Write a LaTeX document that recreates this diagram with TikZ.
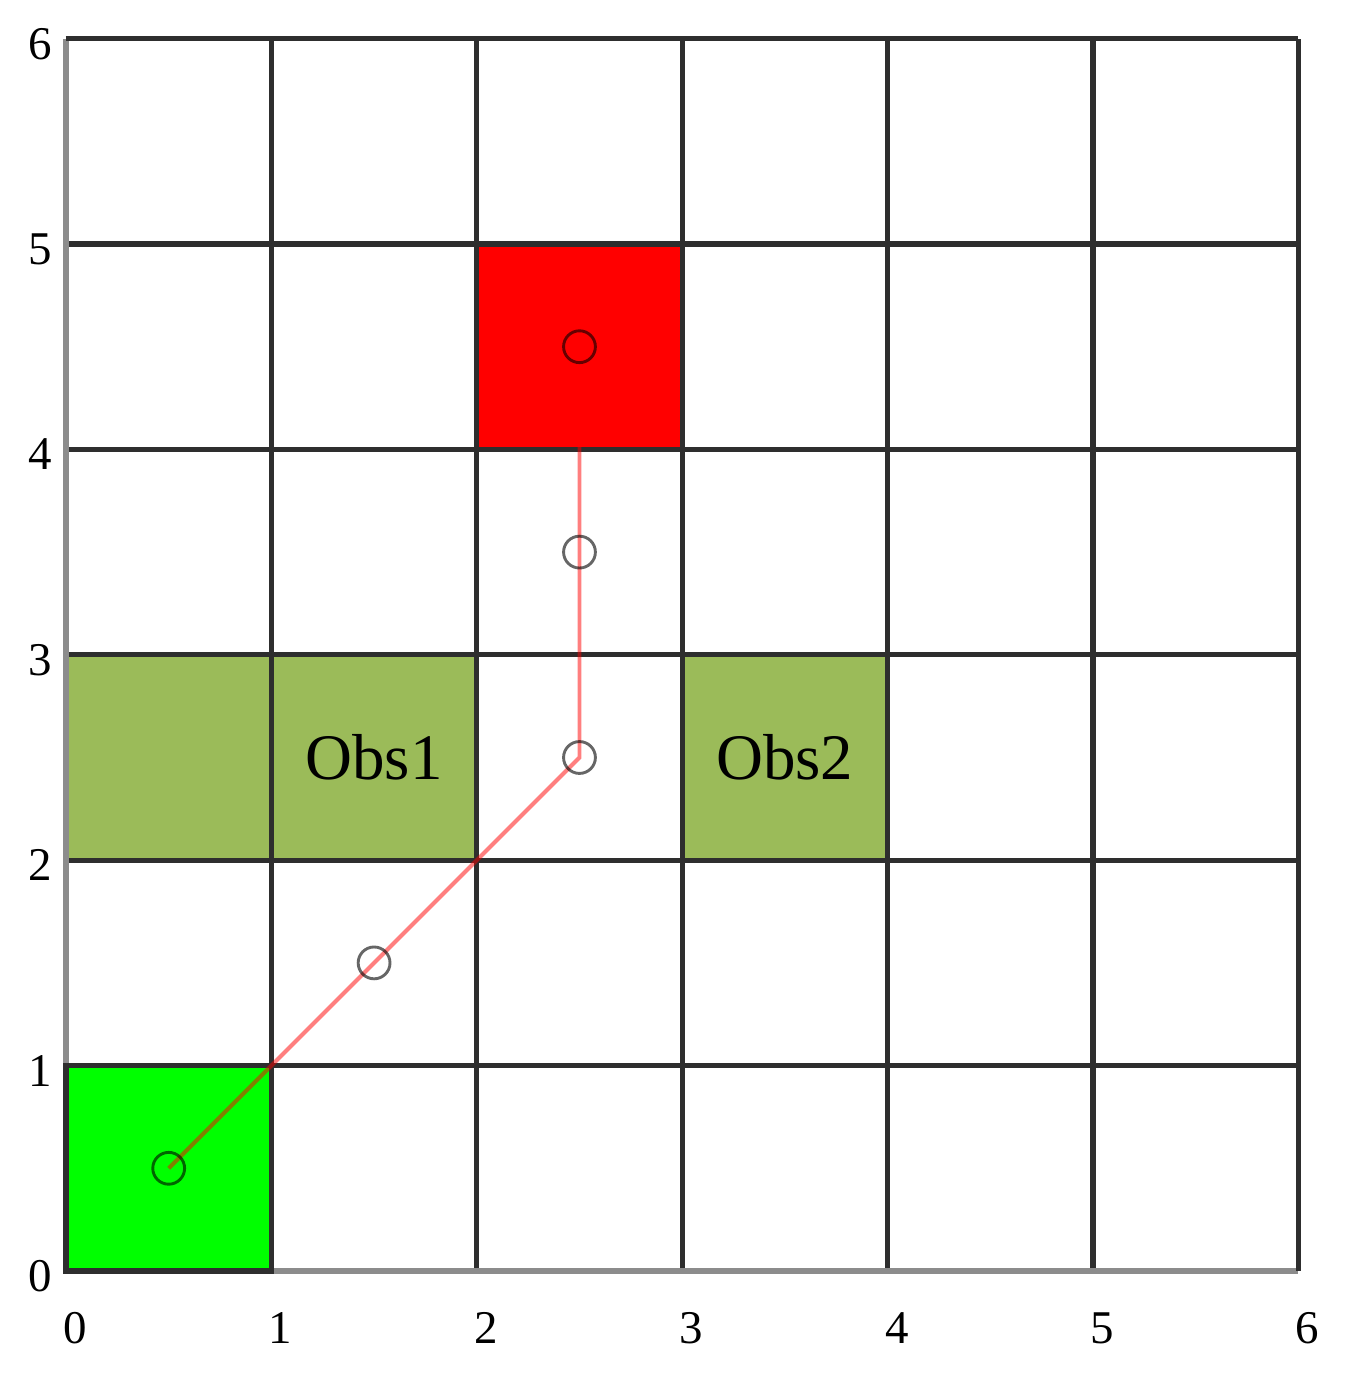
\documentclass[tikz,border=0pt]{standalone}
\usepackage{fontspec}
\setmainfont{Liberation Serif}
\begin{document}
\begin{tikzpicture}[x=2cm,y=2cm,
  gridline/.style={draw=black!82,line width=1.4pt},
  axisline/.style={draw=black!45,line width=1.4pt},
  cellbox/.style={draw=black!82,line width=1.4pt},
  waypt/.style={circle,draw=black,draw opacity=0.6,line width=0.8pt,minimum size=0.31cm,inner sep=0pt},
  route/.style={draw=red,draw opacity=0.5,line width=1.1pt},
  ticklab/.style={font=\fontsize{13}{15}\selectfont,inner sep=0pt},
  obslab/.style={font=\fontsize{18}{20}\selectfont,inner sep=0pt}]
\useasboundingbox (-0.3213,-0.5745) rectangle (6.246,6.188);
% filled cells
\fill[green] (0,0) rectangle (1,1);
\fill[red] (2,4) rectangle (3,5);
\fill[fill={rgb,255:red,155;green,187;blue,89}] (0,2) rectangle (2,3);
\fill[fill={rgb,255:red,155;green,187;blue,89}] (3,2) rectangle (4,3);
% grid
\foreach \i in {1,...,6} {\draw[gridline] (\i,0) -- (\i,6);}
\foreach \j in {1,...,6} {\draw[gridline] (0,\j) -- (6,\j);}
\draw[axisline] (0,0) -- (0,6);
\draw[axisline] (0,0) -- (6,0);
\draw[gridline] (0,6) -- (6,6);
\draw[gridline] (6,0) -- (6,6);
\draw[cellbox] (0,0) rectangle (1,1);
% labels
\node[obslab] (obs1) at (1.5,2.5) {Obs1};
\node[obslab] (obs2) at (3.5,2.5) {Obs2};
\foreach \k in {0,...,6} {
  \node[ticklab] (xl\k) at (\k+0.045,-0.277) {\k};
  \node[ticklab] (yl\k) at (-0.125,\k-0.025) {\k};
}
% waypoints
\coordinate (p1) at (0.5,0.5);
\coordinate (p2) at (1.5,1.5);
\coordinate (p3) at (2.5,2.5);
\coordinate (p4) at (2.5,3.5);
\coordinate (p5) at (2.5,4.5);
\draw[route] (p1) -- (p2) -- (p3) -- (p4) -- (p5);
\node[waypt] (c1) at (p1) {};
\node[waypt] (c2) at (p2) {};
\node[waypt] (c3) at (p3) {};
\node[waypt] (c4) at (p4) {};
\node[waypt] (c5) at (p5) {};
\end{tikzpicture}
\end{document}
